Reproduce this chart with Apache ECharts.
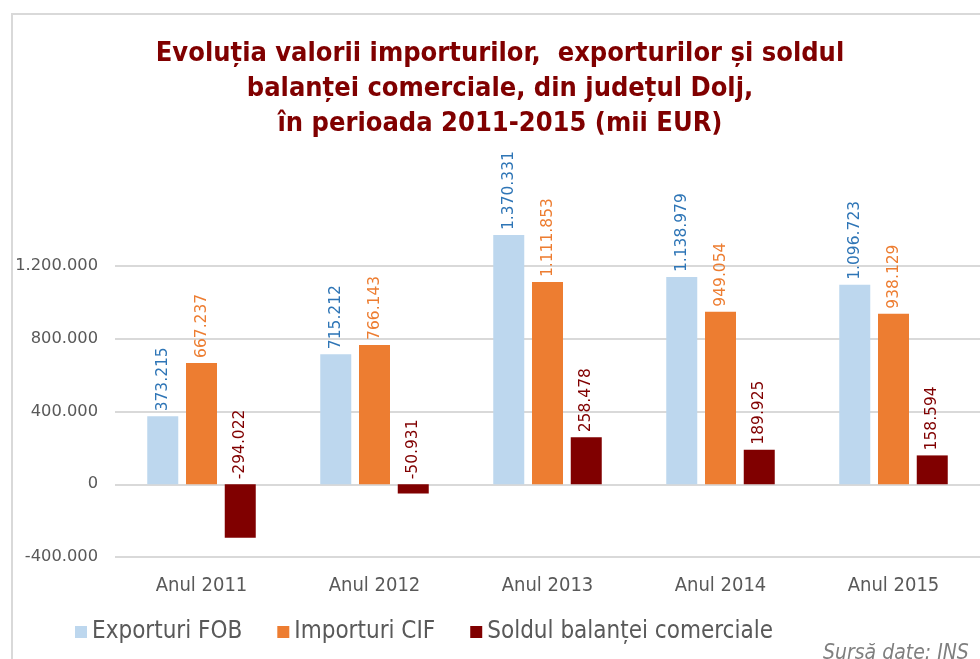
<!DOCTYPE html>
<html>
<head>
<meta charset="utf-8">
<script src="https://cdn.jsdelivr.net/npm/echarts@6/dist/echarts.min.js"></script>
<style>
html,body{margin:0;padding:0;background:#fff;}
#chart{width:980px;height:659px;}
</style>
</head>
<body>
<div id="chart"></div>
<script>
const categories = ['Anul 2011', 'Anul 2012', 'Anul 2013', 'Anul 2014', 'Anul 2015'];
const seriesNames = ['Exporturi FOB', 'Importuri CIF', 'Soldul balanței comerciale'];
const exportsFOB = [373215, 715212, 1370331, 1138979, 1096723];
const importsCIF = [667237, 766143, 1111853, 949054, 938129];
const tradeBalance = [-294022, -50931, 258478, 189925, 158594];
const yTicks = { min: -400000, max: 1200000, step: 400000 };
const titleText = 'Evoluția valorii importurilor,  exporturilor și soldul\nbalanței comerciale, din județul Dolj,\nîn perioada 2011-2015 (mii EUR)';
const sourceText = 'Sursă date: INS';

const fmt = v => {
  const neg = v < 0;
  const s = String(Math.abs(Math.round(v))).replace(/\B(?=(\d{3})+(?!\d))/g, '.');
  return (neg ? '-' : '') + s;
};

const COND = '"DejaVu Sans Condensed", "Liberation Sans Narrow", sans-serif';
const REG = '"DejaVu Sans", Verdana, sans-serif';

function mkSeries(name, data, color, labelColor) {
  return {
    name: name,
    type: 'bar',
    data: data,
    barWidth: 31,
    barGap: '25%',
    clip: false,
    itemStyle: { color: color },
    label: {
      show: true,
      position: 'top',
      rotate: 90,
      align: 'left',
      verticalAlign: 'middle',
      distance: 5,
      color: labelColor,
      fontFamily: REG,
      fontSize: 15.5,
      formatter: p => fmt(p.value)
    }
  };
}

const chart = echarts.init(document.getElementById('chart'), null, { renderer: 'canvas' });
chart.setOption({
  backgroundColor: '#ffffff',
  animation: false,
  title: {
    text: titleText,
    left: 495,
    textAlign: 'center',
    top: 31,
    textStyle: {
      color: '#800000',
      fontFamily: COND,
      fontWeight: 'bold',
      fontSize: 27,
      lineHeight: 35
    }
  },
  legend: {
    left: 70,
    top: 615,
    itemWidth: 12,
    itemHeight: 12,
    itemGap: 35,
    icon: 'rect',
    textStyle: { color: '#595959', fontFamily: COND, fontSize: 24 },
    data: seriesNames
  },
  graphic: [
    {
      type: 'rect',
      silent: true,
      shape: { x: 12, y: 14, width: 1000, height: 700 },
      style: { fill: null, stroke: '#d9d9d9', lineWidth: 2 }
    },
    {
      type: 'text',
      left: 823,
      top: 643,
      style: {
        text: sourceText,
        fill: '#7f7f7f',
        font: 'italic 21px ' + COND
      }
    }
  ],
  grid: { left: 115, top: 266, width: 873, height: 291, containLabel: false },
  xAxis: {
    type: 'category',
    data: categories,
    axisLine: { show: false, onZero: false },
    axisTick: { show: false },
    axisLabel: { color: '#595959', fontFamily: COND, fontSize: 20, margin: 19 }
  },
  yAxis: {
    type: 'value',
    min: yTicks.min,
    max: yTicks.max,
    interval: yTicks.step,
    axisLine: { show: false },
    axisTick: { show: false },
    splitLine: { lineStyle: { color: '#d9d9d9', width: 2 } },
    axisLabel: { color: '#595959', fontFamily: REG, fontSize: 16.3, margin: 17, formatter: v => fmt(v) }
  },
  series: [
    mkSeries(seriesNames[0], exportsFOB, '#bdd7ee', '#2e75b6'),
    mkSeries(seriesNames[1], importsCIF, '#ed7d31', '#ed7d31'),
    mkSeries(seriesNames[2], tradeBalance, '#800000', '#800000')
  ]
});
</script>
</body>
</html>
